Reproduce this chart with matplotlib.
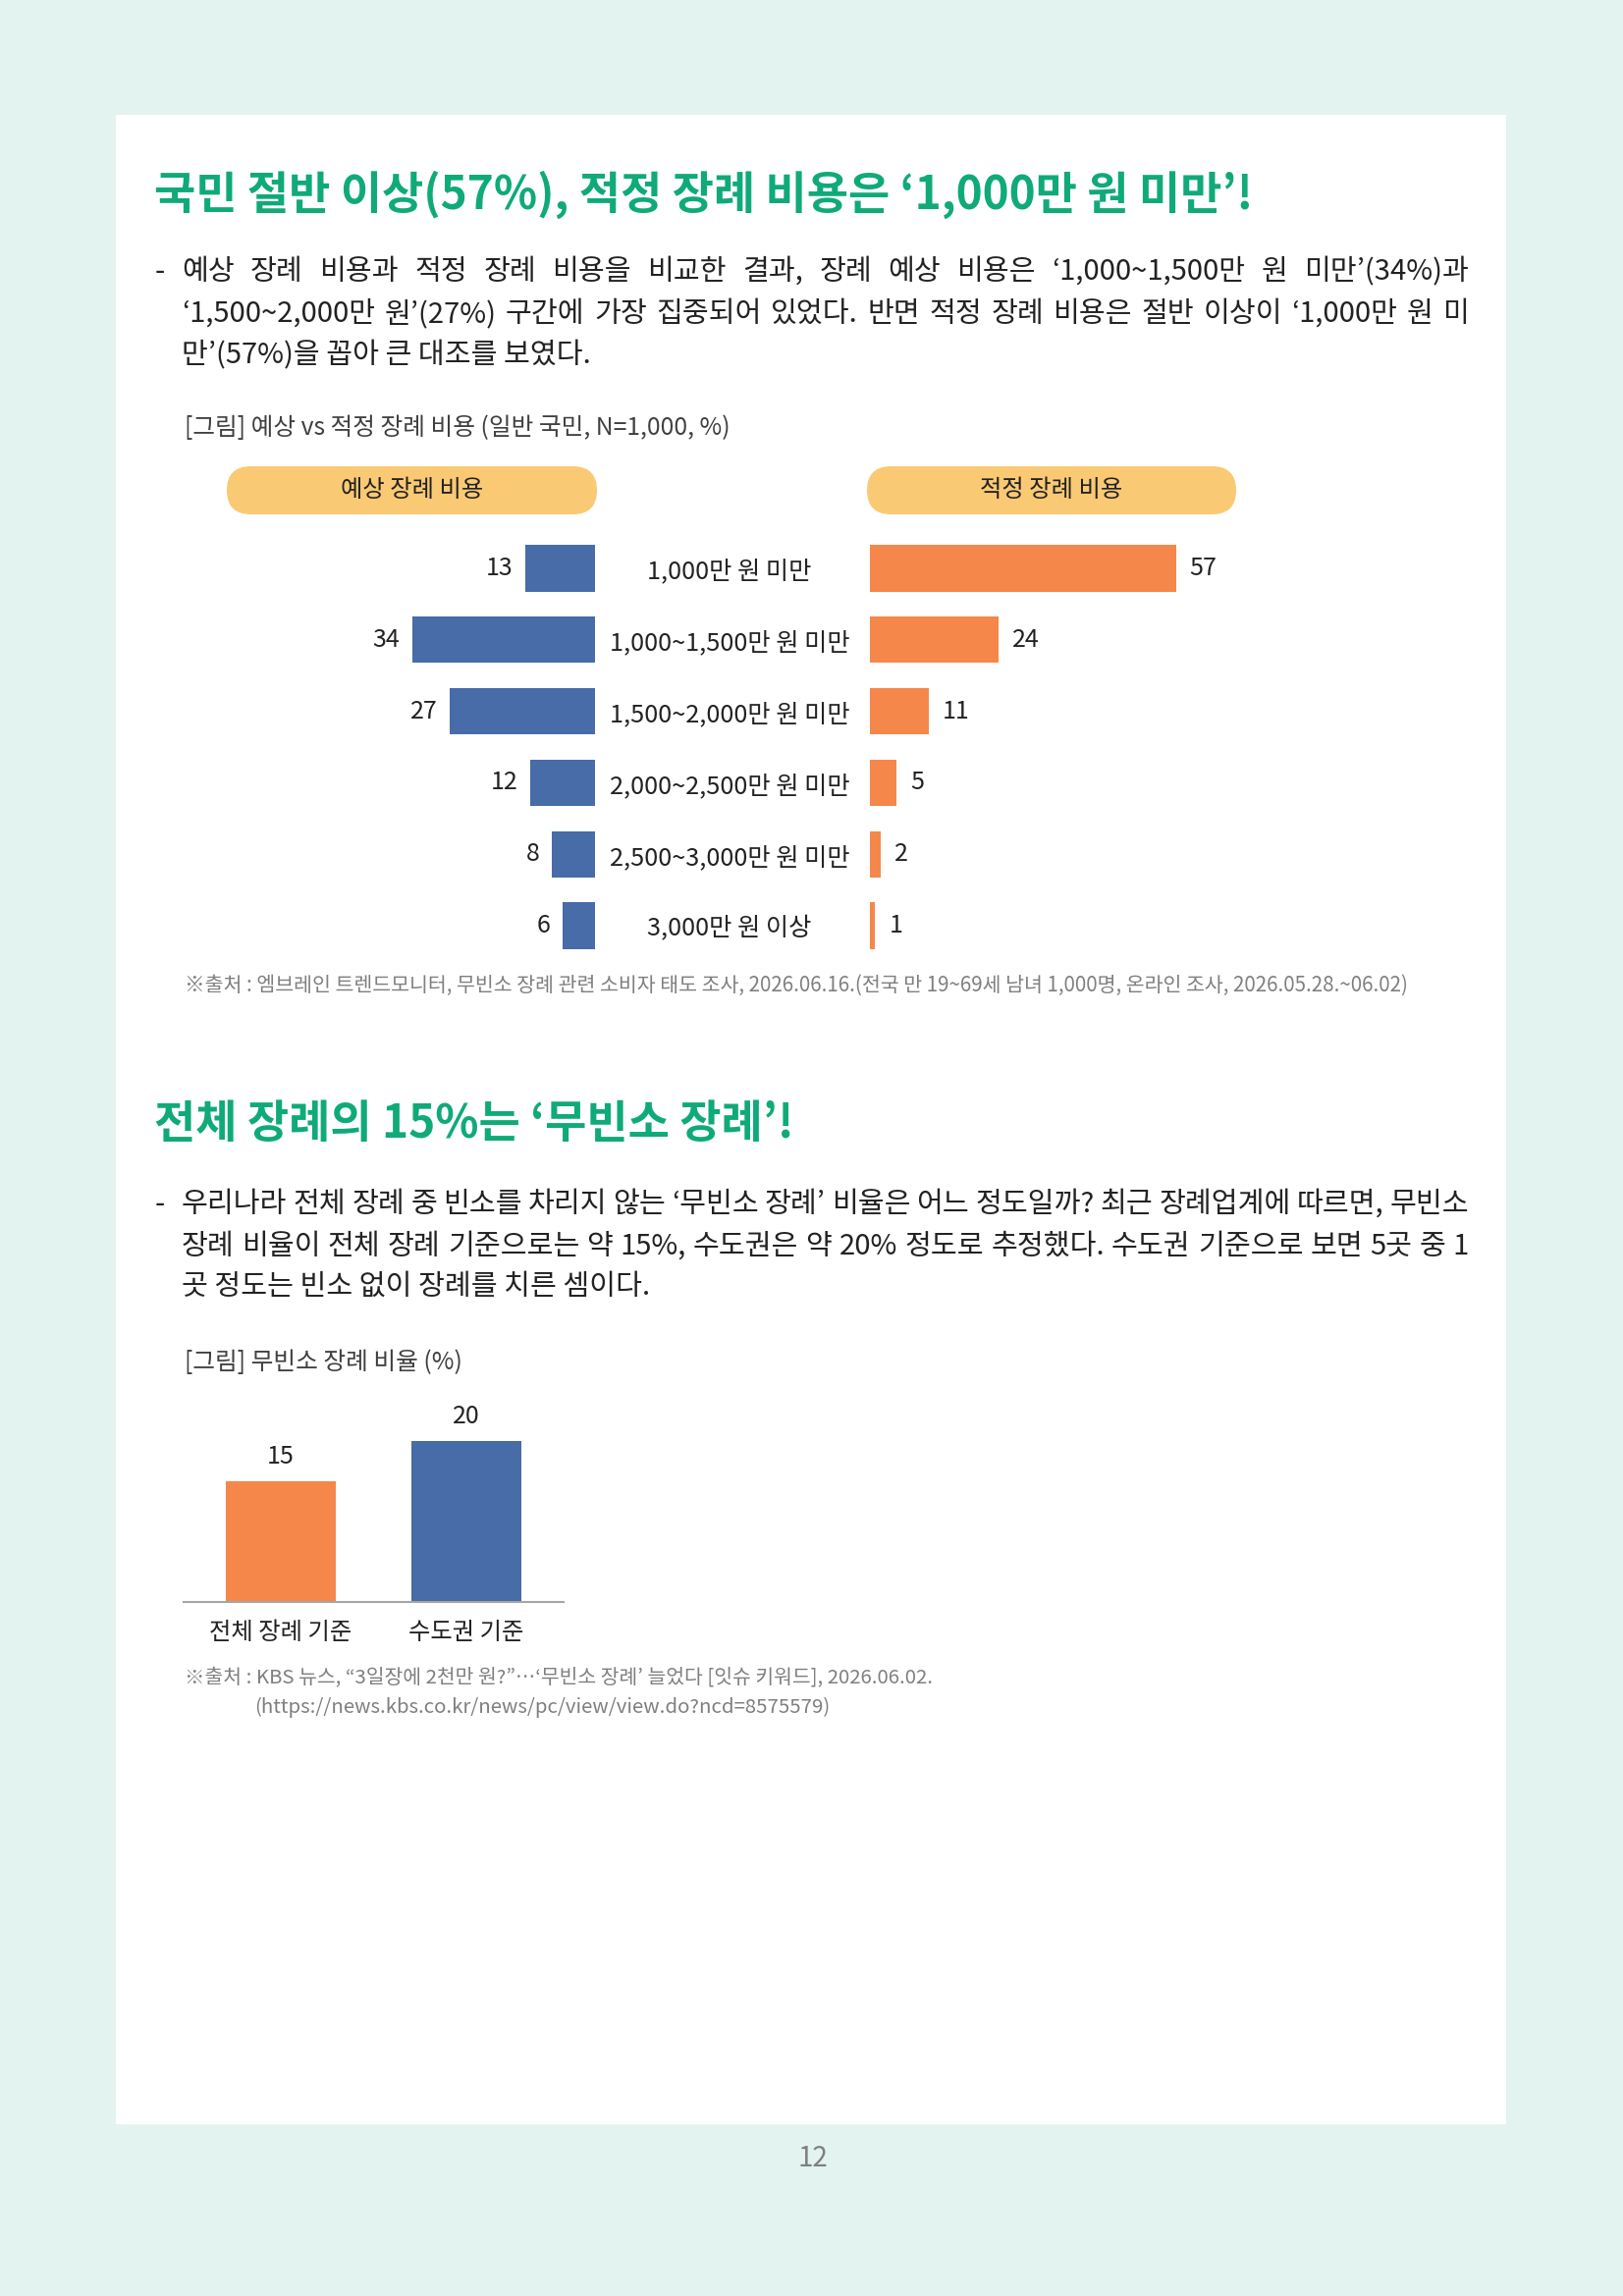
import matplotlib
matplotlib.use('Agg')
import matplotlib.pyplot as plt
from matplotlib.patches import Rectangle, FancyBboxPatch
from matplotlib.transforms import blended_transform_factory

plt.rcParams['font.family'] = ['Noto Sans CJK KR', 'DejaVu Sans']

# ---------------- data ----------------
categories = ['1,000만 원 미만', '1,000~1,500만 원 미만', '1,500~2,000만 원 미만',
              '2,000~2,500만 원 미만', '2,500~3,000만 원 미만', '3,000만 원 이상']
expected_cost = [13, 34, 27, 12, 8, 6]
appropriate_cost = [57, 24, 11, 5, 2, 1]
series_names = ['예상 장례 비용', '적정 장례 비용']

nobinso_categories = ['전체 장례 기준', '수도권 기준']
nobinso_values = [15, 20]

title1 = '국민 절반 이상(57%), 적정 장례 비용은 ‘1,000만 원 미만’!'
title2 = '전체 장례의 15%는 ‘무빈소 장례’!'
para1 = ['예상 장례 비용과 적정 장례 비용을 비교한 결과, 장례 예상 비용은 ‘1,000~1,500만 원 미만’(34%)과',
         '‘1,500~2,000만 원’(27%) 구간에 가장 집중되어 있었다. 반면 적정 장례 비용은 절반 이상이 ‘1,000만 원 미',
         '만’(57%)을 꼽아 큰 대조를 보였다.']
para2 = ['우리나라 전체 장례 중 빈소를 차리지 않는 ‘무빈소 장례’ 비율은 어느 정도일까? 최근 장례업계에 따르면, 무빈소',
         '장례 비율이 전체 장례 기준으로는 약 15%, 수도권은 약 20% 정도로 추정했다. 수도권 기준으로 보면 5곳 중 1',
         '곳 정도는 빈소 없이 장례를 치른 셈이다.']
caption1 = '[그림] 예상 vs 적정 장례 비용 (일반 국민, N=1,000, %)'
caption2 = '[그림] 무빈소 장례 비율 (%)'
source1 = '※출처 : 엠브레인 트렌드모니터, 무빈소 장례 관련 소비자 태도 조사, 2026.06.16.(전국 만 19~69세 남녀 1,000명, 온라인 조사, 2026.05.28.~06.02)'
source2a = '※출처 : KBS 뉴스, “3일장에 2천만 원?”…‘무빈소 장례’ 늘었다 [잇슈 키워드], 2026.06.02.'
source2b = '(https://news.kbs.co.kr/news/pc/view/view.do?ncd=8575579)'
page_number = '12'

# ---------------- style ----------------
W, H, DPI = 1653, 2339, 100
BG = '#E3F3EF'
GREEN = '#10AA79'
BLUE = '#476CA7'
ORANGE = '#F5874A'
PILL = '#FAC973'
TEXT = '#222222'
GRAY = '#7F7F7F'

fig = plt.figure(figsize=(W / DPI, H / DPI), dpi=DPI)
fig.patch.set_facecolor(BG)
page = fig.add_axes([0, 0, 1, 1])
page.set_xlim(0, W)
page.set_ylim(H, 0)
page.axis('off')
page.add_patch(Rectangle((118, 117), 1534 - 118, 2164 - 117, facecolor='white', edgecolor='none'))

renderer = fig.canvas.get_renderer()


def px_axes(x0, y0, x1, y1):
    return fig.add_axes([x0 / W, 1 - y1 / H, (x1 - x0) / W, (y1 - y0) / H])


def text_width(s, **kw):
    t = page.text(0, 0, s, **kw)
    w = t.get_window_extent(renderer=renderer).width
    t.remove()
    return w


def justified(line, x0, x1, y, **kw):
    words = line.split(' ')
    widths = [text_width(w, **kw) for w in words]
    gap = (x1 - x0 - sum(widths)) / (len(words) - 1)
    x = x0
    for w, wd in zip(words, widths):
        page.text(x, y, w, ha='left', va='center', **kw)
        x += wd + gap


body_kw = dict(fontsize=21, color=TEXT)

# titles
page.text(157, 198, title1, fontsize=33.1, fontweight='bold', color=GREEN, ha='left', va='center')
page.text(157, 1145, title2, fontsize=33.1, fontweight='bold', color=GREEN, ha='left', va='center')

# paragraphs
for para, ys in ((para1, (277, 320, 362)), (para2, (1227, 1270, 1311))):
    page.text(158, ys[0], '-', ha='left', va='center', **body_kw)
    justified(para[0], 185, 1496, ys[0], **body_kw)
    justified(para[1], 185, 1496, ys[1], **body_kw)
    page.text(185, ys[2], para[2], ha='left', va='center', **body_kw)

# captions
page.text(188, 436, caption1, fontsize=17.8, color='#404040', ha='left', va='center')
page.text(188, 1388, caption2, fontsize=17.8, color='#404040', ha='left', va='center')

# pills
for (x0, x1), name in zip(((231, 608), (883, 1259)), series_names):
    page.add_patch(FancyBboxPatch((x0, 475), (x1 - x0), 49,
                                  boxstyle='round,pad=0,rounding_size=24.5',
                                  facecolor=PILL, edgecolor='none'))
    page.text((x0 + x1) / 2, 499.5, name, fontsize=17.5, color=TEXT, ha='center', va='center')

# ---------------- chart 1 ----------------
PXU = 5.47
n = len(categories)
ytop, ybot = 542.6, 979.4
ax_l = px_axes(606 - 60 * PXU, ytop, 606, ybot)
ax_r = px_axes(886, ytop, 886 + 60 * PXU, ybot)
idx = list(range(n))
for ax, vals, col in ((ax_l, expected_cost, BLUE), (ax_r, appropriate_cost, ORANGE)):
    ax.barh(idx, vals, height=0.65, color=col)
    ax.set_ylim(n - 0.5, -0.5)
    ax.axis('off')
ax_l.set_xlim(60, 0)
ax_r.set_xlim(0, 60)
for i, v in enumerate(expected_cost):
    ax_l.annotate(str(v), (v, i), xytext=(-9, 0), textcoords='offset points',
                  ha='right', va='center', fontsize=18, color=TEXT)
for i, v in enumerate(appropriate_cost):
    ax_r.annotate(str(v), (v, i), xytext=(10, 0), textcoords='offset points',
                  ha='left', va='center', fontsize=18, color=TEXT)
tr = blended_transform_factory(page.transData, ax_r.transData)
for i, c in enumerate(categories):
    ax_r.text(743, i + 0.05, c, transform=tr, ha='center', va='center', fontsize=18.2, color=TEXT)

page.text(188, 1004, source1, fontsize=14.8, color=GRAY, ha='left', va='center')

# ---------------- chart 2 ----------------
PXU2 = 8.22
ax2 = px_axes(187, 1632 - 25 * PXU2, 574, 1632)
ax2.bar(range(len(nobinso_values)), nobinso_values, width=0.593, color=[ORANGE, BLUE])
ax2.set_xlim(-0.524, 1.524)
ax2.set_ylim(0, 25)
for s in ('top', 'right', 'left'):
    ax2.spines[s].set_visible(False)
ax2.spines['bottom'].set_color('#A6A6A6')
ax2.spines['bottom'].set_linewidth(1.5)
ax2.set_yticks([])
ax2.set_xticks(range(len(nobinso_categories)))
ax2.set_xticklabels(nobinso_categories, fontsize=17.5, color=TEXT)
ax2.tick_params(axis='x', length=0, pad=13)
ax2.patch.set_alpha(0)
for i, v in enumerate(nobinso_values):
    ax2.annotate(str(v), (i, v), xytext=(0, 18), textcoords='offset points',
                 ha='center', va='center', fontsize=18, color=TEXT)

page.text(188, 1710, source2a, fontsize=14.7, color=GRAY, ha='left', va='center')
page.text(259, 1739, source2b, fontsize=14.7, color=GRAY, ha='left', va='center')

page.text(828, 2199, page_number, fontsize=20, color=GRAY, ha='center', va='center')

fig.savefig('out.png', dpi=DPI, facecolor=BG)
